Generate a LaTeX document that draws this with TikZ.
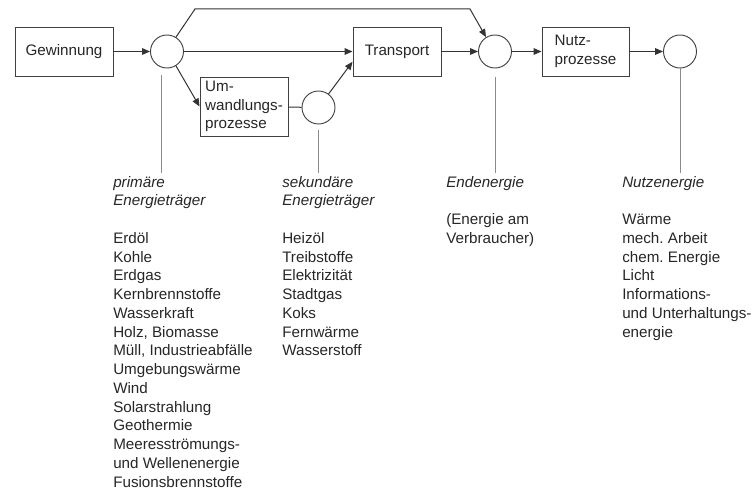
\documentclass[tikz,border=0pt]{standalone}
\usepackage{fontspec}
\setmainfont{Liberation Sans}
\usetikzlibrary{arrows.meta}

\begin{document}
\begin{tikzpicture}[x=0.75pt,y=-0.75pt,
  every node/.style={font=\fontsize{11.4}{14.06}\selectfont\frenchspacing, text=black!85},
  box/.style={draw=black!75, line width=0.7pt, rectangle, inner sep=2pt},
  hub/.style={draw=black!75, line width=0.7pt, circle, minimum size=24.75pt, inner sep=0pt},
  flow/.style={draw=black!80, line width=0.75pt},
  arr/.style={flow, -{Triangle[length=6pt,width=5pt]}},
  drop/.style={draw=black!45, line width=0.5pt},
  txt/.style={anchor=base west, inner sep=0pt},
  ttl/.style={txt, font=\fontsize{11.4}{14.06}\selectfont\itshape}]

\useasboundingbox (0,0) rectangle (754,492);

% process boxes and hubs
\node[box, minimum width=73.5pt, minimum height=36.75pt] (gew) at (64,51.5) {Gewinnung};
\node[hub] (c1) at (167,51.5) {};
\node[box, minimum width=66pt, minimum height=36.75pt] (trans) at (397,51.5) {Transport};
\node[box, minimum width=66pt, minimum height=44.25pt, align=left] (umw) at (244,106.5) {Um-\\wandlungs-\\prozesse};
\node[hub] (c2) at (318.5,107.5) {};
\node[hub] (c3) at (495,51.5) {};
\node[box, minimum width=65.25pt, minimum height=36.75pt, align=left] (nutz) at (585.5,51.5) {Nutz-\\prozesse};
\node[hub] (c4) at (680,51.5) {};

% flows
\coordinate (k1) at (195,9);
\coordinate (k2) at (470,9);
\draw[arr] (gew) -- (c1);
\draw[arr] (c1) -- (trans);
\draw[arr] (c1.-58) -- (umw.west);
\draw[flow] (umw) -- (c2);
\draw[arr] (c2) -- (trans.193);
\draw[arr] (c1.58) -- (k1) -- (k2) -- (c3.122);
\draw[arr] (trans) -- (c3);
\draw[arr] (c3) -- (nutz);
\draw[arr] (nutz) -- (c4);

% leader lines to the captions
\coordinate (d1a) at (161,75);   \coordinate (d1b) at (161,173);
\coordinate (d2a) at (318.5,130); \coordinate (d2b) at (318.5,173);
\coordinate (d3a) at (495,77);   \coordinate (d3b) at (495,173);
\coordinate (d4a) at (680,68);   \coordinate (d4b) at (680,173);
\draw[drop] (d1a) -- (d1b);
\draw[drop] (d2a) -- (d2b);
\draw[drop] (d3a) -- (d3b);
\draw[drop] (d4a) -- (d4b);

% captions: primary carriers
\node[ttl] (p0) at (113,187) {primäre};
\node[ttl] (p1) at (113,205.75) {Energieträger};
\foreach \t [count=\i from 3] in {Erdöl, Kohle, Erdgas, Kernbrennstoffe, Wasserkraft,
    {Holz, Biomasse}, {Müll, Industrieabfälle}, Umgebungswärme, Wind, Solarstrahlung,
    Geothermie, Meeresströmungs-, und Wellenenergie, Fusionsbrennstoffe}
  \node[txt] (p\i) at (113,187+18.75*\i) {\t};

% secondary carriers
\node[ttl] (s0) at (282,187) {sekundäre};
\node[ttl] (s1) at (282,205.75) {Energieträger};
\foreach \t [count=\i from 3] in {Heizöl, Treibstoffe, Elektrizität, Stadtgas, Koks,
    Fernwärme, Wasserstoff}
  \node[txt] (s\i) at (282,187+18.75*\i) {\t};

% final energy
\node[ttl] (e0) at (446,187) {Endenergie};
\node[txt] (e2) at (446,224.5) {(Energie am};
\node[txt] (e3) at (446,243.25) {Verbraucher)};

% useful energy
\node[ttl] (n0) at (622,187) {Nutzenergie};
\foreach \t [count=\i from 2] in {Wärme, mech. Arbeit, chem. Energie, Licht,
    Informations-, und Unterhaltungs-, energie}
  \node[txt] (n\i) at (622,187+18.75*\i) {\t};

\end{tikzpicture}
\end{document}
